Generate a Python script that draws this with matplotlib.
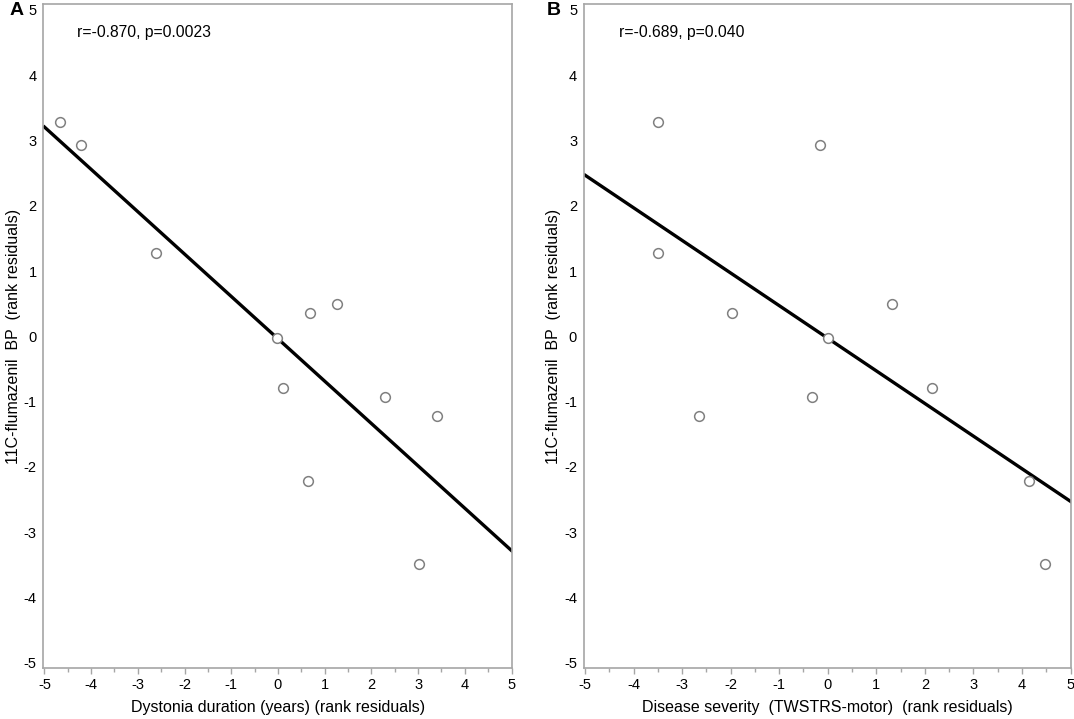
import numpy as np
import matplotlib
matplotlib.use("Agg")
import matplotlib.pyplot as plt
from matplotlib.ticker import MultipleLocator

plt.rcParams["font.family"] = ["Liberation Sans", "DejaVu Sans"]

# rank residuals of 11C-flumazenil BP (same subjects in both panels)
bp_resid = [3.29, 2.93, 1.28, -0.03, 0.36, 0.50, -0.79, -0.93, -1.22, -2.22, -3.49]

# panel A: dystonia duration rank residuals
duration_resid = [-4.66, -4.22, -2.62, -0.03, 0.68, 1.26, 0.10, 2.29, 3.40, 0.65, 3.01]

# panel B: disease severity (TWSTRS-motor) rank residuals
severity_resid = [-3.49, -0.17, -3.49, 0.00, -1.98, 1.32, 2.15, -0.32, -2.65, 4.15, 4.48]

stats_text = ["r=-0.870, p=0.0023", "r=-0.689, p=0.040"]
panel_letters = ["A", "B"]
x_labels = ["Dystonia duration (years) (rank residuals)",
            "Disease severity  (TWSTRS-motor)  (rank residuals)"]
y_label = "11C-flumazenil  BP  (rank residuals)"

spine_col = "#a6a6a6"
marker_col = "#808080"

fig = plt.figure(figsize=(10.74, 7.19), dpi=100)
ax_a = fig.add_axes([0.0405, 0.0709, 0.4362, 0.9235])
ax_b = fig.add_axes([0.5438, 0.0709, 0.4534, 0.9235])

for ax, xs, txt, letter, xl in zip([ax_a, ax_b], [duration_resid, severity_resid],
                                   stats_text, panel_letters, x_labels):
    xs = np.asarray(xs)
    ys = np.asarray(bp_resid)

    # least squares fit line across the full x range
    slope, intercept = np.polyfit(xs, ys, 1)
    xfit = np.array([-5, 5])
    ax.plot(xfit, slope * xfit + intercept, color="black", lw=2.4, zorder=2)

    ax.plot(xs, ys, "o", mfc="white", mec=marker_col, mew=1.1, ms=7, zorder=3)

    ax.set_xlim(-5.02, 5.01)
    ax.set_ylim(-5.08, 5.09)
    ax.xaxis.set_major_locator(MultipleLocator(1))
    ax.xaxis.set_minor_locator(MultipleLocator(0.5))
    ax.yaxis.set_major_locator(MultipleLocator(1))

    for s in ax.spines.values():
        s.set_color(spine_col)
        s.set_linewidth(1.2)
    ax.tick_params(axis="x", which="major", direction="out", length=4, width=1,
                   color=spine_col, labelsize=10.5, pad=3)
    ax.tick_params(axis="x", which="minor", direction="out", length=3, width=1,
                   color=spine_col)
    ax.tick_params(axis="y", length=0, labelsize=10.5, pad=5)
    ax.set_xticklabels([f"{int(v)}" for v in ax.get_xticks()])
    ax.set_yticklabels([f"{int(v)}" for v in ax.get_yticks()])

    ax.set_xlabel(xl, fontsize=11.5, labelpad=6)
    ax.set_ylabel(y_label, fontsize=11.5, labelpad=2)

    ax.text(-4.3, 4.66, txt, fontsize=11.3, va="center", ha="left")

fig.text(0.009, 0.985, "A", fontsize=14, fontweight="bold", va="center", ha="left")
fig.text(0.509, 0.985, "B", fontsize=14, fontweight="bold", va="center", ha="left")

fig.savefig("out.png", dpi=100)
